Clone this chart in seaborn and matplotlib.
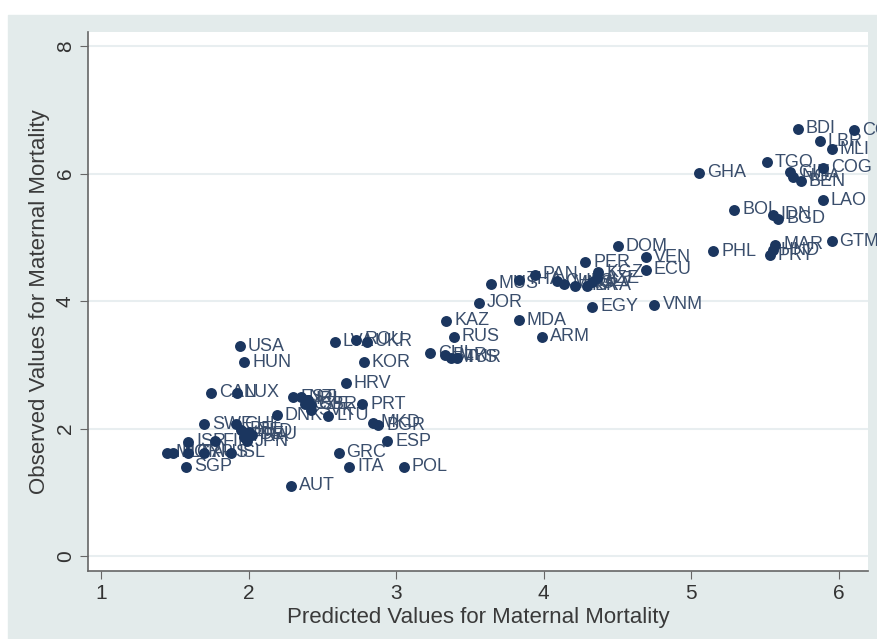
import numpy as np
import pandas as pd
import matplotlib.pyplot as plt
import seaborn as sns
from matplotlib.patches import Rectangle

# values
countries = ['BDI', 'COD', 'LBR', 'MLI', 'TGO', 'COG', 'GIN', 'NGA', 'BEN', 'GHA',
             'LAO', 'BOL', 'IDN', 'BGD', 'GTM', 'MAR', 'HND', 'PRY', 'PHL',
             'DOM', 'VEN', 'ECU', 'PER', 'KGZ', 'AZE', 'SLV', 'BRA', 'PAN', 'THA',
             'MUS', 'CHN', 'MNG', 'LKA', 'JOR', 'EGY', 'VNM', 'KAZ', 'MDA', 'ARM',
             'RUS', 'CHL', 'BLR', 'MYS', 'TUR', 'LVA', 'ROU', 'UKR', 'KOR', 'HRV',
             'PRT', 'MKD', 'BGR', 'ESP', 'GRC', 'ITA', 'POL', 'AUT', 'LTU', 'DNK',
             'EST', 'NZL', 'IRL', 'GBR', 'CZE', 'SVK', 'CAN', 'LUX', 'USA', 'HUN',
             'SWE', 'CHE', 'BEL', 'NLD', 'FRA', 'DEU', 'JPN', 'ISR', 'FIN',
             'MLT', 'NOR', 'CYP', 'AUS', 'ISL', 'SGP']
predicted = [5.72, 6.10, 5.87, 5.95, 5.51, 5.89, 5.67, 5.69, 5.74, 5.05,
             5.89, 5.29, 5.55, 5.59, 5.95, 5.57, 5.55, 5.53, 5.15,
             4.50, 4.69, 4.69, 4.28, 4.37, 4.36, 4.33, 4.29, 3.94, 3.83,
             3.64, 4.09, 4.14, 4.21, 3.56, 4.33, 4.75, 3.34, 3.83, 3.99,
             3.39, 3.23, 3.33, 3.37, 3.41, 2.585, 2.73, 2.80, 2.78, 2.66,
             2.77, 2.84, 2.88, 2.94, 2.61, 2.68, 3.05, 2.29, 2.54, 2.19,
             2.30, 2.355, 2.40, 2.42, 2.38, 2.42, 1.745, 1.92, 1.94, 1.97,
             1.70, 1.915, 1.95, 2.00, 1.97, 2.02, 1.99, 1.59, 1.77,
             1.45, 1.49, 1.59, 1.70, 1.88, 1.575]
observed = [6.70, 6.68, 6.51, 6.38, 6.18, 6.09, 6.02, 5.95, 5.88, 6.01,
            5.58, 5.43, 5.35, 5.29, 4.94, 4.88, 4.80, 4.72, 4.78,
            4.86, 4.69, 4.49, 4.61, 4.45, 4.36, 4.30, 4.24, 4.41, 4.33,
            4.27, 4.31, 4.27, 4.24, 3.97, 3.91, 3.94, 3.69, 3.70, 3.44,
            3.44, 3.18, 3.15, 3.11, 3.11, 3.36, 3.39, 3.36, 3.04, 2.71,
            2.38, 2.09, 2.05, 1.80, 1.62, 1.40, 1.40, 1.10, 2.20, 2.21,
            2.49, 2.49, 2.45, 2.37, 2.38, 2.29, 2.56, 2.56, 3.29, 3.04,
            2.07, 2.07, 1.98, 1.95, 1.87, 1.90, 1.80, 1.79, 1.80,
            1.62, 1.62, 1.62, 1.62, 1.62, 1.40]

df = pd.DataFrame({'country': countries, 'pred': predicted, 'obs': observed})

plt.rcParams['font.family'] = ['Liberation Sans', 'DejaVu Sans']
fig = plt.figure(figsize=(8.78, 6.39), dpi=100, facecolor='white')
# stata style grey background, white strip left/top as in the screenshot
fig.add_artist(Rectangle((8/878, 0), 1, (639-15)/639, transform=fig.transFigure,
                         color='#e3ebeb', zorder=-1))
ax = fig.add_axes([88/878, (639-571)/639, (868-88)/878, (571-32)/639])
ax.set_facecolor('white')

sns.scatterplot(data=df, x='pred', y='obs', ax=ax, s=62, color='#1b365f',
                linewidth=0, zorder=3)
for i, r in df.iterrows():
    ax.annotate(r['country'], (r['pred'], r['obs']), xytext=(8, 0),
                textcoords='offset pixels', va='center', ha='left',
                fontsize=13, color='#3a4e6c', zorder=2)

ax.set_xlim(0.912, 6.197)
ax.set_ylim(-0.235, 8.22)
ax.set_xticks([1, 2, 3, 4, 5, 6])
ax.set_yticks([0, 2, 4, 6, 8])
ax.set_yticklabels(['0', '2', '4', '6', '8'], rotation=90, va='center')
ax.tick_params(direction='out', length=6, color='#666666', labelsize=15,
               labelcolor='#333333')
ax.yaxis.grid(True, color='#e8eef0', lw=1.5)
ax.set_axisbelow(True)
for s in ['top', 'right']:
    ax.spines[s].set_visible(False)
for s in ['left', 'bottom']:
    ax.spines[s].set_color('#666666')
    ax.spines[s].set_linewidth(1.2)

ax.set_xlabel('Predicted Values for Maternal Mortality', fontsize=16,
              color='#3a3a3a', labelpad=3)
ax.set_ylabel('Observed Values for Maternal Mortality', fontsize=16,
              color='#3a3a3a', labelpad=4)

plt.savefig('out.png', dpi=100)
